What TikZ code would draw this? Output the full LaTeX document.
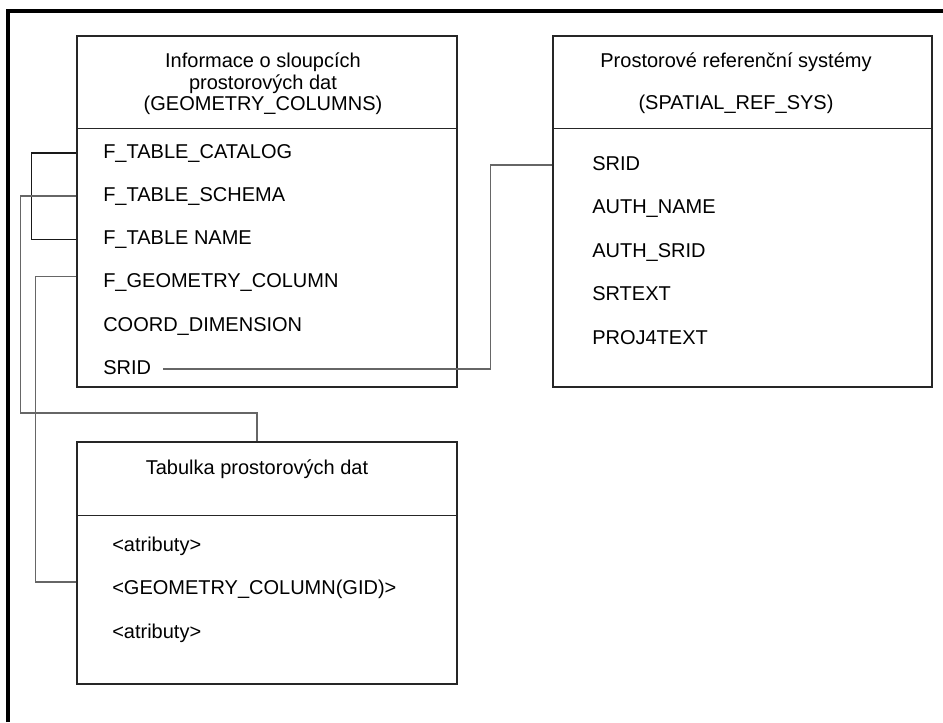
\documentclass[tikz,border=0pt]{standalone}
\usepackage{fontspec}
\setmainfont{Liberation Sans}
\usetikzlibrary{positioning}

\begin{document}
\begin{tikzpicture}[
  x=0.75pt, y=-0.75pt,
  table/.style={rectangle, draw=black!85, line width=1.1pt, inner sep=0pt},
  title/.style={align=center, font=\fontsize{15}{16}\selectfont},
  attr/.style={anchor=west, inner sep=0pt, text height=10.5pt, text depth=2.5pt, font=\fontsize{15}{16}\selectfont},
  link/.style={draw=black!60, line width=1.1pt},
  frame/.style={draw=black, line width=2.4pt}
]
\useasboundingbox (0,0) rectangle (943,722);

% Frame
\draw[frame] (8,722) -- (8,11) -- (943,11);

% Tables
\node[table, minimum width=285pt, minimum height=263.25pt] (geo) at (267,211.5) {};
\node[table, minimum width=284.25pt, minimum height=263.25pt] (srs) at (742.5,211.5) {};
\node[table, minimum width=285pt, minimum height=181.5pt] (dat) at (267,563) {};

\draw[table] (geo.north west) ++(0,93) -- ++(380,0);
\draw[table] (srs.north west) ++(0,93) -- ++(379,0);
\draw[table] (dat.north west) ++(0,74) -- ++(380,0);

% Titles
\node[title] (geot) at (263,84) {Informace o sloupcích\\prostorových dat\\(GEOMETRY\_COLUMNS)};
\node[title] (srst) at (736,83) {Prostorové referenční systémy\\[15.5pt](SPATIAL\_REF\_SYS)};
\node[title] (datt) at (257,469) {Tabulka prostorových dat};

% Attributes
\foreach \txt [count=\i] in {F\_TABLE\_CATALOG, F\_TABLE\_SCHEMA, F\_TABLE NAME,
    F\_GEOMETRY\_COLUMN, COORD\_DIMENSION, SRID}
  \node[attr] (geo\i) at (103,153+43.2*\i-43.2) {\txt};
\foreach \txt [count=\i] in {SRID, AUTH\_NAME, AUTH\_SRID, SRTEXT, PROJ4TEXT}
  \node[attr] (srs\i) at (592,165+43.5*\i-43.5) {\txt};
\foreach \txt [count=\i] in {<atributy>, <GEOMETRY\_COLUMN(GID)>, <atributy>}
  \node[attr] (dat\i) at (112,546+43.5*\i-43.5) {\txt};

% Links
\draw[link, draw=black!90] (geo.west |- geo1) -- ++(-45,0) |- (geo.west |- geo3);
\draw[link] (geo.west |- geo2) -- ++(-56,0) -- ++(0,217) -| ([xshift=-7.5pt]dat.north);
\draw[link] ([yshift=4.5pt]geo.west |- geo4) -- ++(-41,0) |- ([yshift=5.5pt]dat.west |- dat2);
\draw[link] ([xshift=9pt]geo6.east) -- ++(327,0) |- (srs.west |- srs1);

\end{tikzpicture}
\end{document}
